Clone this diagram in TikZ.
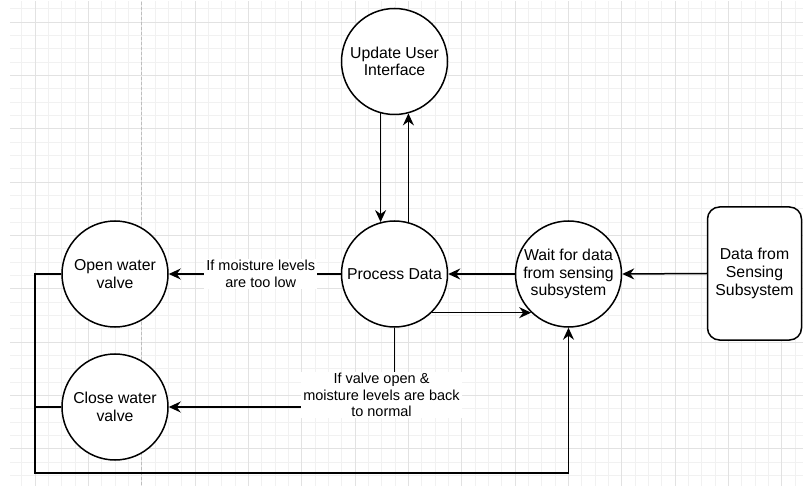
\documentclass[tikz,border=0pt]{standalone}
\usepackage{fontspec}
\setmainfont{Liberation Sans}
\usetikzlibrary{arrows.meta,calc}
\definecolor{gminor}{HTML}{F1F1F1}
\definecolor{gmajor}{HTML}{E2E2E2}
\definecolor{pagebrk}{HTML}{BDBDBD}
\begin{document}
\begin{tikzpicture}[x=1pt,y=-1pt,
  gridminor/.style={draw=gminor,line width=0.8pt},
  gridmajor/.style={draw=gmajor,line width=0.9pt},
  proc/.style={circle,draw=black,fill=white,line width=1.5pt,minimum size=106pt,inner sep=0pt,align=center,font=\fontsize{15.8pt}{17.6pt}\selectfont},
  extbox/.style={rectangle,rounded corners=12pt,draw=black,fill=white,line width=1.5pt,minimum width=94pt,minimum height=133pt,inner sep=0pt,align=center,font=\fontsize{15.8pt}{17.6pt}\selectfont},
  lbl/.style={fill=white,inner xsep=2pt,inner ysep=1pt,align=center,font=\fontsize{14.5pt}{16.8pt}\selectfont},
  arr/.style={draw=black,line width=1.5pt,-{Stealth[length=12pt,width=11pt,inset=4pt]}},
  ln/.style={draw=black,line width=1.5pt}]
\useasboundingbox (0,0) rectangle (803,486);
\fill[white] (0,0) rectangle (803,486);
% grid
\begin{scope}
\clip (10,2) rectangle (803,486);
\foreach \k in {-2,...,58}{\draw[gridminor] ({35+13.3333*\k},0) -- ({35+13.3333*\k},490);}
\foreach \k in {-2,...,36}{\draw[gridminor] (0,{22+13.3333*\k}) -- (810,{22+13.3333*\k});}
\foreach \k in {-1,...,15}{\draw[gridmajor] ({35+53.3333*\k},0) -- ({35+53.3333*\k},490);}
\foreach \k in {-1,...,9}{\draw[gridmajor] (0,{22+53.3333*\k}) -- (810,{22+53.3333*\k});}
\draw[pagebrk,line width=0.8pt,dash pattern=on 3pt off 2pt] (141.7,2) -- (141.7,486);
\end{scope}
% nodes
\node[proc] (ui) at (394.5,61.5) {Update User\\Interface};
\node[proc] (pd) at (394.5,274) {Process Data};
\node[proc] (wait) at (568.5,274) {Wait for data\\from sensing\\subsystem};
\node[proc] (open) at (115,274) {Open water\\valve};
\node[proc] (close) at (115,407) {Close water\\valve};
\node[extbox] (src) at (754.5,273.5) {Data from\\Sensing\\Subsystem};
\coordinate (fb) at (35,473);
% connectors
\draw[arr] (ui.-105) -- (pd.105);
\draw[arr] (pd.75) -- (ui.-75);
\draw[arr] (src.west) -- (wait.east);
\draw[arr] (wait.west) -- (pd.east);
\draw[arr] (pd.-46) -- (wait.-134);
\draw[arr] (pd.west) -- node[lbl,pos=0.465] {If moisture levels\\are too low} (open.east);
\draw[arr] (pd.south) |- node[lbl,pos=0.5,xshift=-13pt,yshift=12pt] {If valve open \&\\moisture levels are back\\to normal} (close.east);
\draw[arr] (open.west) -| (fb) -| (wait.south);
\draw[ln] (close.west) -- (close.west -| fb);
\end{tikzpicture}
\end{document}
